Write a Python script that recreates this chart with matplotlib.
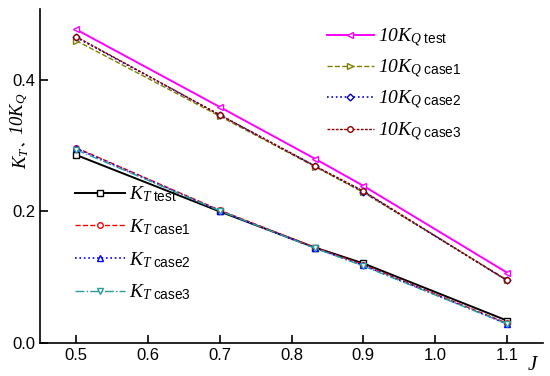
import numpy as np
import matplotlib
matplotlib.use("Agg")
import matplotlib.pyplot as plt
from matplotlib.text import Annotation

plt.rcParams["font.family"] = ["Liberation Sans", "DejaVu Sans"]
plt.rcParams["mathtext.fontset"] = "custom"
plt.rcParams["mathtext.it"] = "Liberation Serif:italic"
plt.rcParams["mathtext.rm"] = "Liberation Serif:italic"
plt.rcParams["mathtext.sf"] = "Liberation Sans"

J = [0.5, 0.7, 0.833, 0.9, 1.1]

kq_test = [0.477, 0.359, 0.280, 0.239, 0.107]
kq_case1 = [0.460, 0.345, 0.268, 0.229, 0.096]
kq_case2 = [0.465, 0.347, 0.269, 0.230, 0.095]
kq_case3 = [0.466, 0.347, 0.269, 0.231, 0.095]

kt_test = [0.286, 0.200, 0.145, 0.121, 0.034]
kt_case1 = [0.297, 0.202, 0.145, 0.119, 0.030]
kt_case2 = [0.296, 0.201, 0.144, 0.118, 0.029]
kt_case3 = [0.294, 0.201, 0.144, 0.117, 0.029]

cases = ["test", "case1", "case2", "case3"]
xticks = [0.5, 0.6, 0.7, 0.8, 0.9, 1.0, 1.1]
yticks = [0.0, 0.2, 0.4]

fig = plt.figure(figsize=(5.5, 3.76), dpi=100)
ax = fig.add_axes([0.073, 0.088, 0.914, 0.888])

ms = 4
kq_lines = [
    ax.plot(J, kq_test, ls="-", color="#ff00ff", lw=1.4, marker="<", ms=ms, mfc="white", mec="#ff00ff")[0],
    ax.plot(J, kq_case1, ls="--", color="#808000", lw=1.0, marker=">", ms=ms, mfc="white", mec="#808000")[0],
    ax.plot(J, kq_case2, ls=":", color="#0000cc", lw=1.2, marker="D", ms=3.5, mfc="white", mec="#0000cc")[0],
    ax.plot(J, kq_case3, ls=(0, (2, 1)), color="#8b0000", lw=1.0, marker="o", ms=ms, mfc="white", mec="#8b0000")[0],
]
kt_lines = [
    ax.plot(J, kt_test, ls="-", color="black", lw=1.4, marker="s", ms=ms, mfc="white", mec="black")[0],
    ax.plot(J, kt_case1, ls="--", color="red", lw=1.0, marker="o", ms=ms, mfc="white", mec="red")[0],
    ax.plot(J, kt_case2, ls=":", color="blue", lw=1.2, marker="^", ms=ms, mfc="white", mec="blue")[0],
    ax.plot(J, kt_case3, ls="-.", color="#2a9d9d", lw=1.0, marker="v", ms=ms, mfc="white", mec="#2a9d9d")[0],
]

kq_labels = [r"$10K_{Q\ \mathsf{%s}}$" % s for s in cases]
kt_labels = [r"$K_{T\ \mathsf{%s}}$" % s for s in cases]

leg1 = ax.legend(kq_lines, kq_labels, loc="upper left", bbox_to_anchor=(0.535, 1.0),
                 frameon=False, fontsize=14, handlelength=2.45, labelspacing=0.44,
                 handletextpad=0.2)
ax.add_artist(leg1)
ax.legend(kt_lines, kt_labels, loc="upper left", bbox_to_anchor=(0.035, 0.527),
          frameon=False, fontsize=14, handlelength=2.55, labelspacing=0.67,
          handletextpad=0.2)

ax.set_xlim(0.45, 1.15)
ax.set_ylim(0, 0.508)
ax.set_xticks(xticks)
ax.set_xticklabels(["%.1f" % v for v in xticks])
ax.set_yticks(yticks)
ax.set_yticklabels(["%.1f" % v for v in yticks])
ax.tick_params(direction="in", length=6, width=1.2, labelsize=12)
ax.spines["top"].set_visible(False)
ax.spines["right"].set_visible(False)
ax.spines["left"].set_linewidth(1.2)
ax.spines["bottom"].set_linewidth(1.2)

# y label in three chained pieces (the CJK comma needs its own font)
t1 = fig.text(0.038, 1 - 169 / 376, r"$K_{T}$", rotation=90, ha="center", va="bottom", fontsize=13.5)
t2 = fig.add_artist(Annotation("、", xy=(0.5, 1.0), xycoords=t1,
                               xytext=(0, 0), textcoords="offset points",
                               rotation=90, ha="center", va="bottom",
                               fontsize=8, family="Noto Sans CJK SC", weight="bold"))
fig.add_artist(Annotation(r"$10K_{Q}$", xy=(0.5, 1.0), xycoords=t2,
                          xytext=(-1, 0), textcoords="offset points",
                          rotation=90, ha="center", va="bottom", fontsize=13.5))
fig.text(0.969, 1 - 365 / 376, r"$J$", ha="center", va="center", fontsize=15)

fig.savefig("out.png", dpi=100)
